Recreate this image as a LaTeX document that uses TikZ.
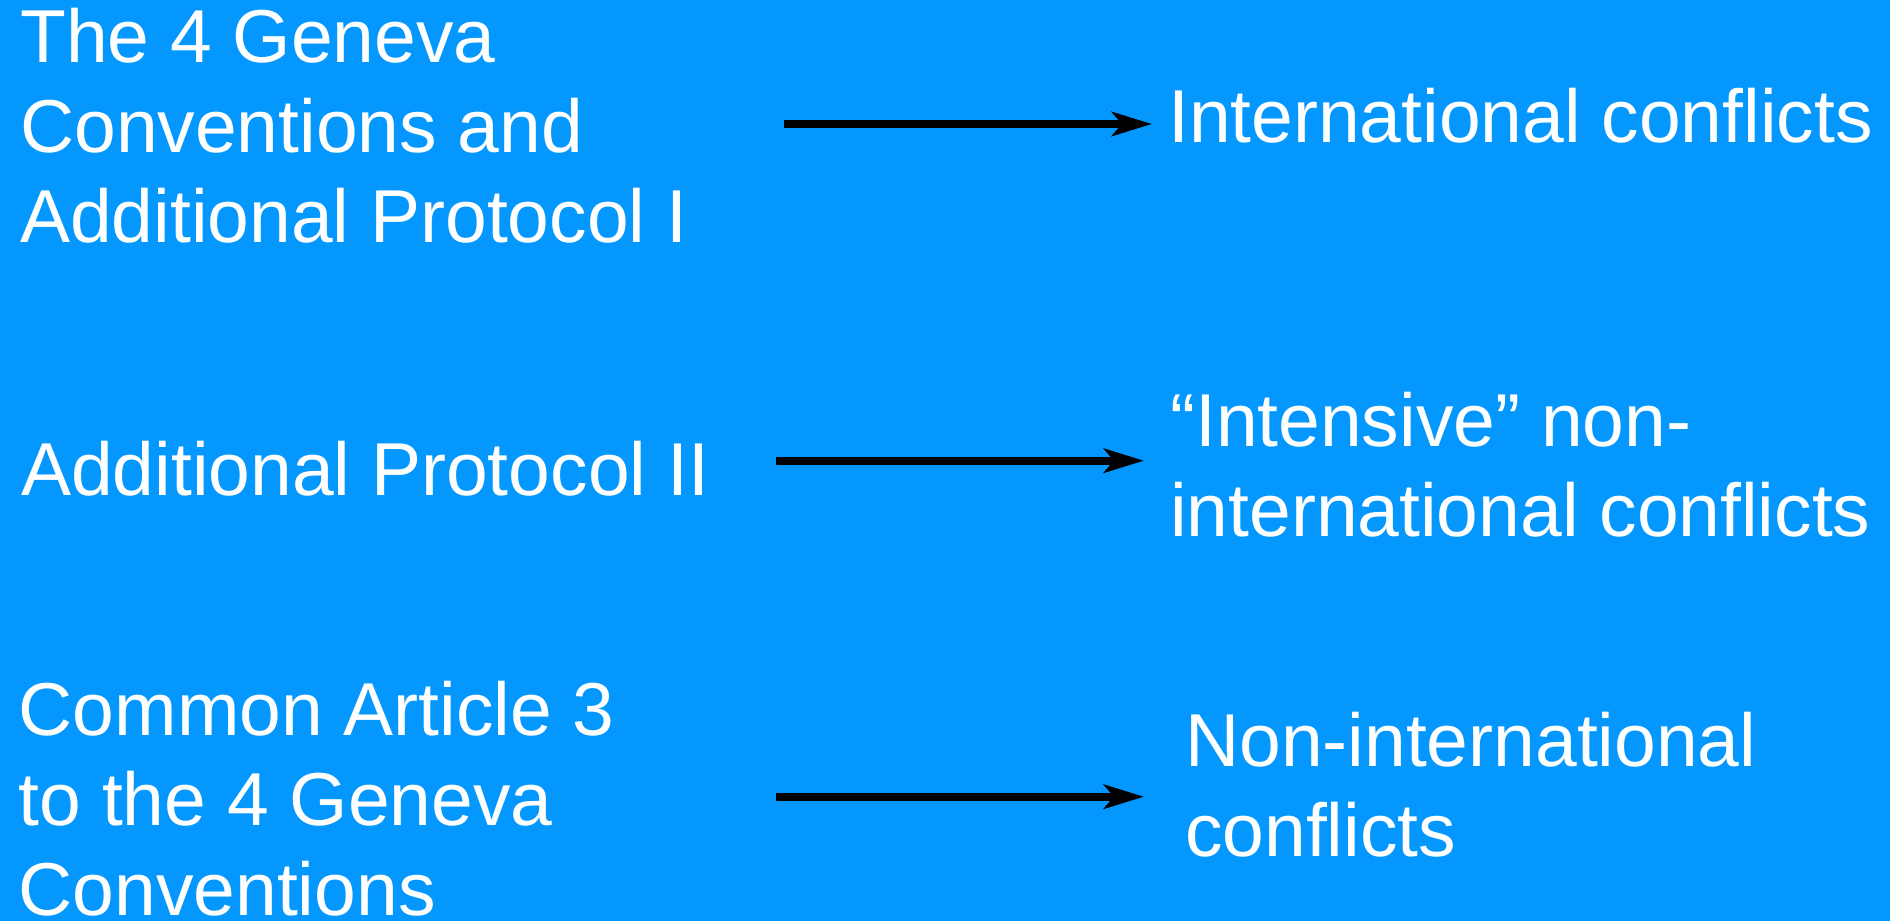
\documentclass[tikz,border=0pt]{standalone}
\usepackage{fontspec}
\usetikzlibrary{arrows.meta}
\newfontfamily\labfont{Liberation Sans}
\definecolor{bgblue}{RGB}{4,152,255}
\tikzset{
  lab/.style={anchor=base west, inner sep=0pt, text=white,
    font=\labfont\fontsize{75}{90}\selectfont},
  link/.style={line width=8pt, draw=black,
    -{Stealth[length=40pt, width=24pt, inset=10pt]}}
}
\newcommand{\lines}[1]{\parbox[t]{800pt}{\raggedright #1}}
\begin{document}
\begin{tikzpicture}[x=1pt, y=-1pt]
  % background
  \fill[bgblue] (0,0) rectangle (1890,921);
  \useasboundingbox (0,0) rectangle (1890,921);

  % instruments
  \node[lab] (gc) at (20,62.3) {\lines{The 4 Geneva\\Conventions and\\Additional Protocol I}};
  \node[lab] (ap2) at (21,495) {Additional Protocol II};
  \node[lab] (ca3) at (18.5,735) {\lines{Common Article 3\\to the 4 Geneva\\Conventions}};

  % scope of application
  \node[lab] (ic) at (1168,142.7) {International conflicts};
  \node[lab] (inic) at (1170,446.7) {\lines{“Intensive” non-\\international conflicts}};
  \node[lab] (nic) at (1185,766.7) {\lines{Non-international\\conflicts}};

  % connectors
  \coordinate (s1) at (784,124);  \coordinate (e1) at (1152,124);
  \coordinate (s2) at (776,460.7); \coordinate (e2) at (1144,460.7);
  \coordinate (s3) at (776,796.7); \coordinate (e3) at (1144,796.7);
  \draw[link] (s1) -- (e1);
  \draw[link] (s2) -- (e2);
  \draw[link] (s3) -- (e3);
\end{tikzpicture}
\end{document}
